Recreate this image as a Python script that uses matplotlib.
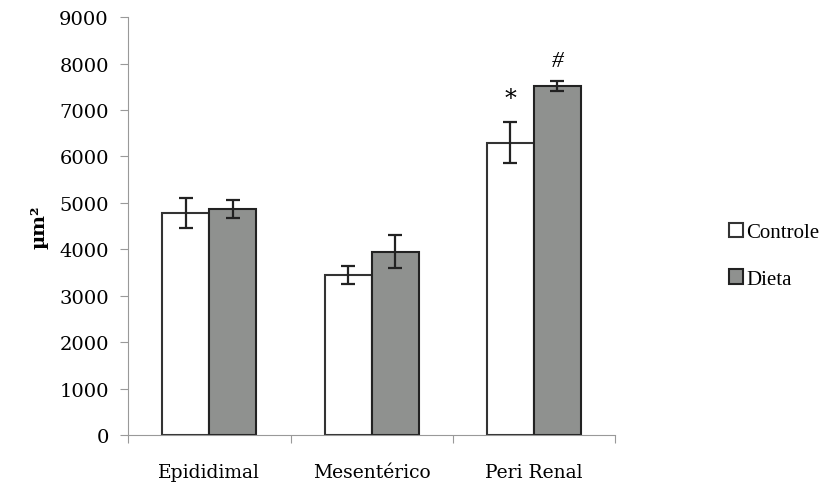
import numpy as np
import matplotlib
matplotlib.use("Agg")
import matplotlib.pyplot as plt

# Dados
categorias = ["Epididimal", "Mesentérico", "Peri Renal"]
controle = [4780, 3450, 6300]
controle_err = [320, 190, 440]
dieta = [4870, 3950, 7520]
dieta_err = [190, 350, 110]
marcas_controle = ["", "", "*"]
marcas_dieta = ["", "", "#"]

plt.rcParams['font.family'] = ['DejaVu Serif']

fig = plt.figure(figsize=(8.38, 4.89), dpi=100)
ax = fig.add_axes([0.153, 0.108, 0.581, 0.855])

x = np.arange(len(categorias))
w = 0.29
ax.bar(x - w / 2, controle, w, color='white', edgecolor='#333333', linewidth=1.5,
       yerr=controle_err, error_kw=dict(ecolor='#222222', elinewidth=1.6, capsize=5, capthick=1.6),
       label='Controle')
ax.bar(x + w / 2, dieta, w, color='#8f918f', edgecolor='#222222', linewidth=1.5,
       yerr=dieta_err, error_kw=dict(ecolor='#222222', elinewidth=1.6, capsize=5, capthick=1.6),
       label='Dieta')

# Marcas de significancia
for i in range(len(categorias)):
    if marcas_controle[i]:
        ax.text(x[i] - w / 2, controle[i] + controle_err[i] + 250, marcas_controle[i],
                ha='center', va='bottom', fontsize=17)
    if marcas_dieta[i]:
        ax.text(x[i] + w / 2, dieta[i] + dieta_err[i] + 200, marcas_dieta[i],
                ha='center', va='bottom', fontsize=17, fontfamily='Liberation Serif',
                fontstyle='italic')

ax.set_xlim(-0.5, len(categorias) - 0.5)
ax.set_ylim(0, 9000)
ax.set_yticks(np.arange(0, 9001, 1000))
ax.set_xticks(np.arange(-0.5, len(categorias), 1.0), minor=False)
ax.set_xticklabels([])
ax.set_xticks(x, minor=True)
ax.set_xticklabels(categorias, minor=True, fontsize=13.5)
ax.tick_params(axis='x', which='minor', length=0, pad=20)
ax.tick_params(axis='x', which='major', length=6, color='#999999')
ax.tick_params(axis='y', length=6, color='#999999', labelsize=14, pad=8)

for s in ['top', 'right']:
    ax.spines[s].set_visible(False)
ax.spines['left'].set_color('#999999')
ax.spines['bottom'].set_color('#999999')

ax.set_ylabel('µm²', fontsize=14, fontweight='bold', labelpad=8)

fig.legend(loc='center left', bbox_to_anchor=(0.847, 0.475), frameon=False,
           prop={'family': 'Liberation Serif', 'size': 15},
           handlelength=0.7, handleheight=0.7, handletextpad=0.15, labelspacing=1.3)

fig.savefig('out.png', dpi=100)
